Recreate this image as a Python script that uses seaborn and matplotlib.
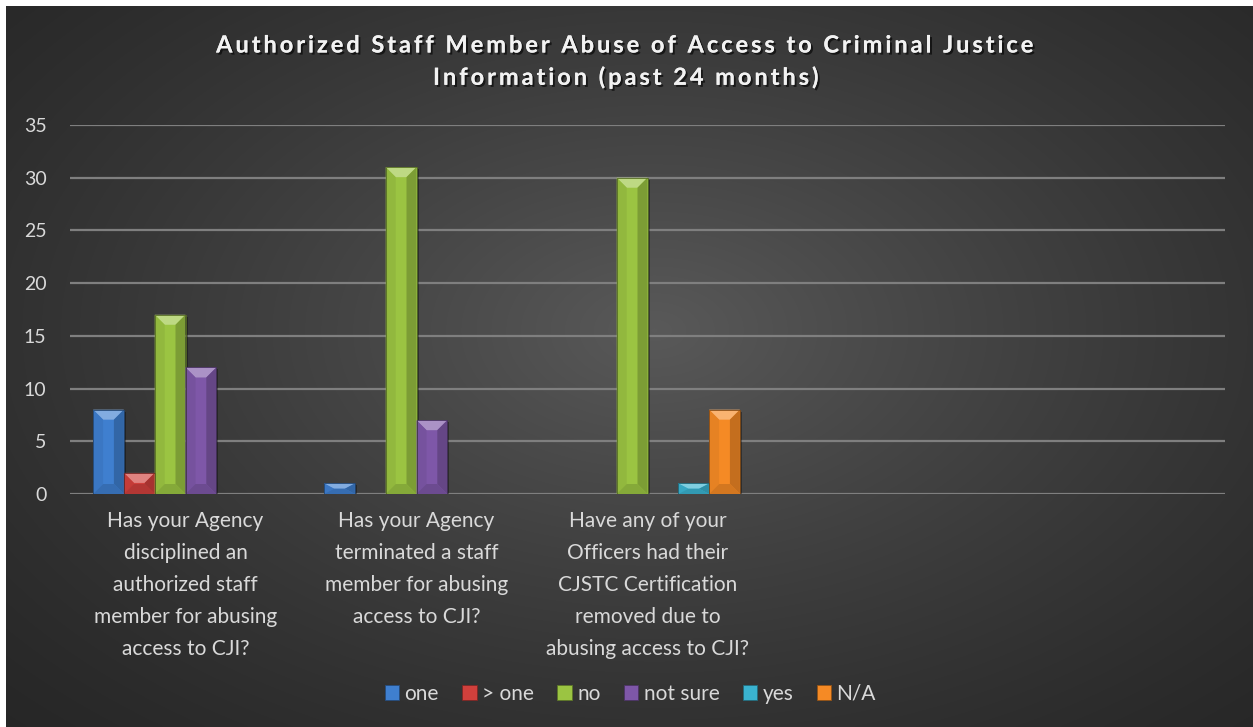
import numpy as np
import pandas as pd
import matplotlib
matplotlib.use("Agg")
import matplotlib.pyplot as plt
import matplotlib.colors as mcolors
from matplotlib.patches import Polygon, Patch
import matplotlib.patheffects as pe
import seaborn as sns

# ---- data -------------------------------------------------------------
categories = [
    "Has your Agency\ndisciplined an\nauthorized staff\nmember for abusing\naccess to CJI?",
    "Has your Agency\nterminated a staff\nmember for abusing\naccess to CJI?",
    "Have any of your\nOfficers had their\nCJSTC Certification\nremoved due to\nabusing access to CJI?",
]
responses = ["one", "> one", "no", "not sure", "yes", "N/A"]
one = [8, 1, np.nan]
more_than_one = [2, np.nan, np.nan]
no = [17, 31, 30]
not_sure = [12, 7, np.nan]
yes = [np.nan, np.nan, 1]
not_applicable = [np.nan, np.nan, 8]
title_lines = ["Authorized Staff Member Abuse of Access to Criminal Justice",
               "Information (past 24 months)"]
yticks = [0, 5, 10, 15, 20, 25, 30, 35]

colors = ["#3f7fcf", "#d0403c", "#9bc442", "#7e57a8", "#3ab3d0", "#f58a25"]

series = [one, more_than_one, no, not_sure, yes, not_applicable]
df = pd.DataFrame(
    [(cat, resp, vals[i])
     for resp, vals in zip(responses, series)
     for i, cat in enumerate(categories)],
    columns=["question", "response", "count"],
)

# ---- figure -----------------------------------------------------------
sns.set_theme(style="dark")
plt.rcParams["font.family"] = ["Lato", "DejaVu Sans"]

W, H = 1253, 727
fig = plt.figure(figsize=(W / 100, H / 100), dpi=100)
fig.patch.set_facecolor("white")

# radial dark-gray backdrop (white margin on top and left)
bg = fig.add_axes([6 / W, 0, (W - 6) / W, (H - 6) / H], zorder=-10)
yy, xx = np.mgrid[0:1:400j, 0:1:700j]
r = np.sqrt(((xx - 0.52) / 0.75) ** 2 + ((yy - 0.45) / 0.8) ** 2)
shade = np.clip(1 - r, 0, 1) ** 1.3
lum = 0.15 + 0.20 * shade
bg.imshow(np.dstack([lum, lum, lum]), aspect="auto", extent=[0, 1, 0, 1],
          interpolation="bicubic")
bg.set_axis_off()

ax = fig.add_axes([70 / W, (H - 494) / H, 1155 / W, (494 - 125) / H])
ax.set_facecolor("none")

sns.barplot(data=df, x="question", y="count", hue="response",
            order=categories, hue_order=responses, palette=colors,
            width=0.8, linewidth=0, saturation=1, legend=False, ax=ax,
            zorder=3)

ax.set_xlim(-0.5, 4.5)
ax.set_ylim(0, 35)
ax.set_yticks(yticks)
ax.grid(axis="y", color="#7f7f7f", linewidth=1.6, zorder=0)
ax.grid(axis="x", visible=False)
for s in ax.spines.values():
    s.set_visible(False)
ax.set_xlabel("")
ax.set_ylabel("")
ax.tick_params(axis="y", length=0, pad=17, labelsize=14, labelcolor="#d9d9d9")
ax.tick_params(axis="x", length=0, pad=12, labelsize=15, labelcolor="#d9d9d9")
for lab in ax.get_xticklabels():
    lab.set_linespacing(1.76)
    lab.set_verticalalignment("top")

# ---- bevelled look on each bar --------------------------------------
fig.canvas.draw()
x0, x1 = ax.get_xlim()
y0, y1 = ax.get_ylim()
bbox = ax.get_window_extent()
ux = (x1 - x0) / bbox.width      # data units per pixel
uy = (y1 - y0) / bbox.height


def mix(c, other, t):
    a = np.array(mcolors.to_rgb(c))
    b = np.array(mcolors.to_rgb(other))
    return tuple(a * (1 - t) + b * t)


for bar in list(ax.patches):
    h = bar.get_height()
    if not np.isfinite(h) or h <= 0:
        continue
    base = bar.get_facecolor()[:3]
    x = bar.get_x()
    w = bar.get_width()
    bx = min(10 * ux, w / 2)
    by = min(10 * uy, h / 2)
    # drop shadow
    ax.add_patch(Polygon([(x + 2 * ux, 0), (x + w + 2 * ux, 0),
                          (x + w + 2 * ux, h - 2 * uy), (x + 2 * ux, h - 2 * uy)],
                         closed=True, facecolor="black", alpha=0.35,
                         edgecolor="none", zorder=2))
    faces = [
        ([(x, h), (x + w, h), (x + w - bx, h - by), (x + bx, h - by)], mix(base, "white", 0.35)),
        ([(x, 0), (x + bx, by), (x + bx, h - by), (x, h)], mix(base, "black", 0.06)),
        ([(x + w, 0), (x + w - bx, by), (x + w - bx, h - by), (x + w, h)], mix(base, "black", 0.2)),
        ([(x, 0), (x + w, 0), (x + w - bx, by), (x + bx, by)], mix(base, "black", 0.14)),
    ]
    for pts, fc in faces:
        ax.add_patch(Polygon(pts, closed=True, facecolor=fc, edgecolor="none",
                             zorder=4))
    ax.add_patch(Polygon([(x, 0), (x + w, 0), (x + w, h), (x, h)], closed=True,
                         facecolor="none", edgecolor=mix(base, "black", 0.45),
                         linewidth=0.6, zorder=5))

# ---- title (tracked-out lettering) ------------------------------------
shadow = [pe.withSimplePatchShadow(offset=(1.5, -1.5), shadow_rgbFace="black",
                                   alpha=0.6), pe.Normal()]
for line, ypix in zip(title_lines, [45, 77]):
    fig.text(0.5, (H - ypix) / H, "\u2009".join(line), ha="center",
             va="center", fontsize=17, fontweight="bold", color="#f2f2f2",
             family=["Lato", "DejaVu Sans"], path_effects=shadow)

# ---- legend -----------------------------------------------------------
handles = [Patch(facecolor=c, edgecolor=mix(c, "black", 0.4), linewidth=0.6,
                 label=r) for c, r in zip(colors, responses)]
leg = fig.legend(handles=handles, loc="center", bbox_to_anchor=(0.503, (H - 694) / H),
                 ncol=6, frameon=False, fontsize=15, handlelength=0.7,
                 handleheight=0.7, handletextpad=0.25, columnspacing=1.12)
for t in leg.get_texts():
    t.set_color("#d9d9d9")

fig.savefig("out.png", dpi=100, facecolor=fig.get_facecolor())
